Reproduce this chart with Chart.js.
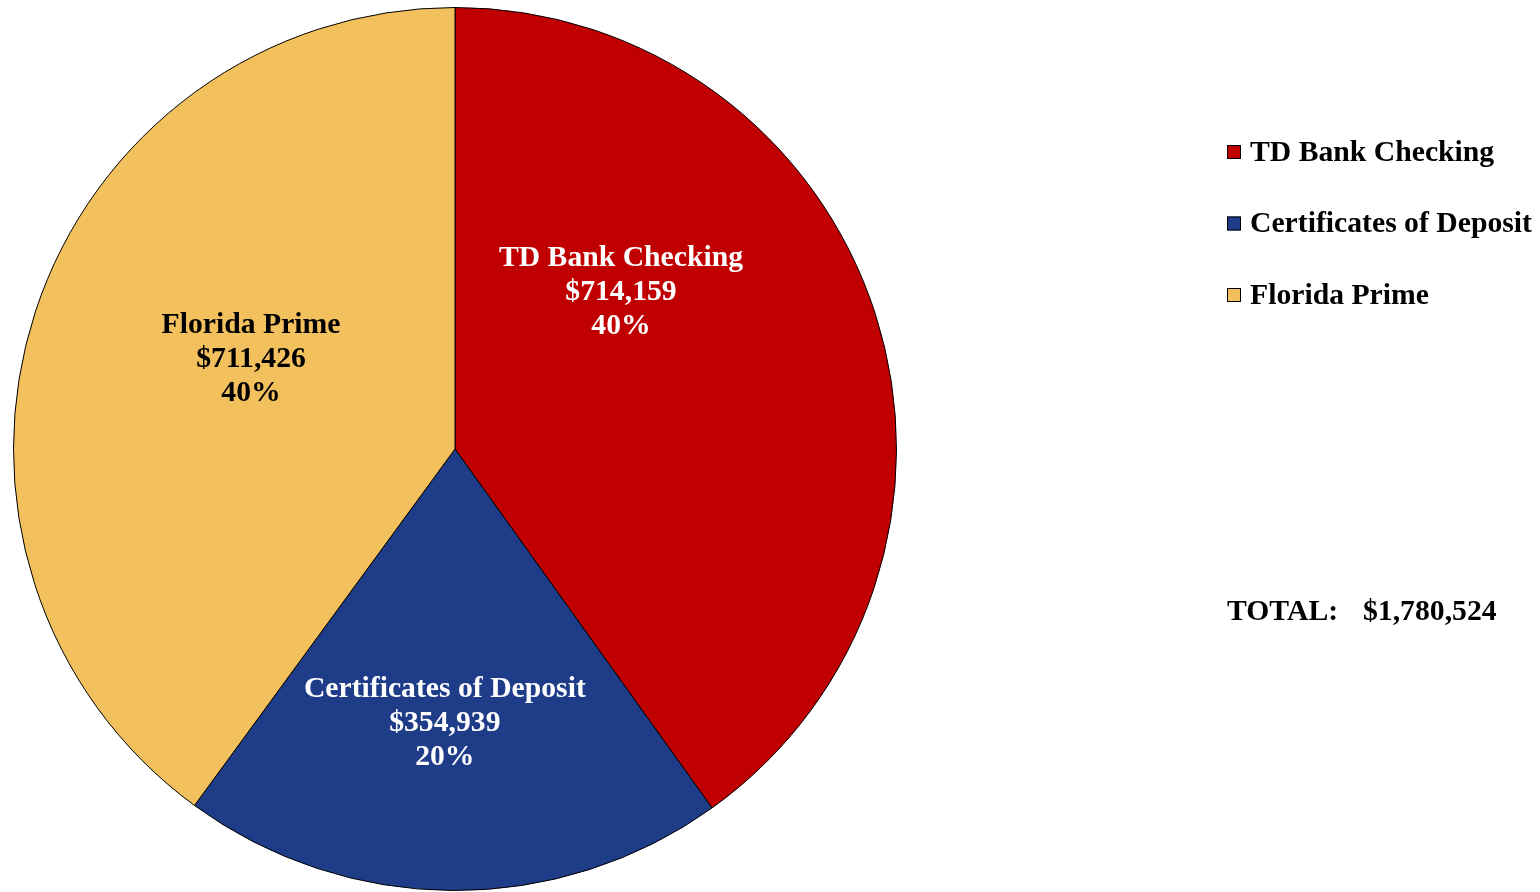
<!DOCTYPE html>
<html>
<head>
<meta charset="utf-8">
<script src="https://cdn.jsdelivr.net/npm/chart.js@4/dist/chart.umd.min.js"></script>
<style>
  html, body { margin: 0; padding: 0; background: #fff; }
  #wrap { width: 1540px; height: 892px; position: relative; }
</style>
</head>
<body>
<div id="wrap"><canvas id="pie"></canvas></div>
<script>
const categories = ['TD Bank Checking', 'Certificates of Deposit', 'Florida Prime'];
const balances = [714159, 354939, 711426];
const percentLabels = ['40%', '20%', '40%'];
const totalCaption = 'TOTAL:';
const totalValue = '$1,780,524';

const sliceColors = ['#C00000', '#1E3C88', '#F3C05E'];
const labelColors = ['#ffffff', '#ffffff', '#000000'];
// label centre, as a fraction of the radius, measured from the pie centre
const labelSpots = [[0.376, -0.355], [-0.023, 0.622], [-0.462, -0.202]];
const FONT = 'bold 29.7px "Liberation Serif", "Times New Roman", serif';

function money(v){
    return '$' + v.toLocaleString('en-US');
}

const sliceLabels = {
    id: 'sliceLabels',
    afterDatasetsDraw(chart){
        const ctx = chart.ctx;
        const arcs = chart.getDatasetMeta(0).data;
        ctx.save();
        ctx.font = FONT;
        ctx.textAlign = 'center';
        ctx.textBaseline = 'middle';
        arcs.forEach((arc, i) => {
            const x = arc.x + labelSpots[i][0] * arc.outerRadius;
            const y = arc.y + labelSpots[i][1] * arc.outerRadius;
            ctx.fillStyle = labelColors[i];
            const lines = [categories[i], money(balances[i]), percentLabels[i]];
            lines.forEach((t, k) => ctx.fillText(t, x, y + (k - 1) * 34));
        });
        ctx.restore();
    }
};

const sideLegend = {
    id: 'sideLegend',
    afterDraw(chart){
        const ctx = chart.ctx;
        ctx.save();
        ctx.font = FONT;
        ctx.textBaseline = 'middle';
        ctx.textAlign = 'left';
        categories.forEach((name, i) => {
            const y = 152 + i * 71.5;
            ctx.fillStyle = sliceColors[i];
            ctx.fillRect(1227, y - 7, 14, 14);
            ctx.strokeStyle = '#000';
            ctx.lineWidth = 1;
            ctx.strokeRect(1227.5, y - 6.5, 13, 13);
            ctx.fillStyle = '#000';
            ctx.fillText(name, 1250, y + 1);
        });
        ctx.fillText(totalCaption, 1227, 612);
        ctx.fillText(totalValue, 1363, 612);
        ctx.restore();
    }
};

new Chart(document.getElementById('pie'), {
    type: 'pie',
    data: {
        labels: categories,
        datasets: [{
            data: balances,
            backgroundColor: sliceColors,
            borderColor: '#000',
            borderWidth: 1
        }]
    },
    options: {
        responsive: true,
        maintainAspectRatio: false,
        animation: false,
        layout: { padding: { left: 13, right: 643, top: 7, bottom: 1 } },
        plugins: {
            legend: { display: false },
            tooltip: { enabled: false }
        }
    },
    plugins: [sliceLabels, sideLegend]
});
</script>
</body>
</html>
